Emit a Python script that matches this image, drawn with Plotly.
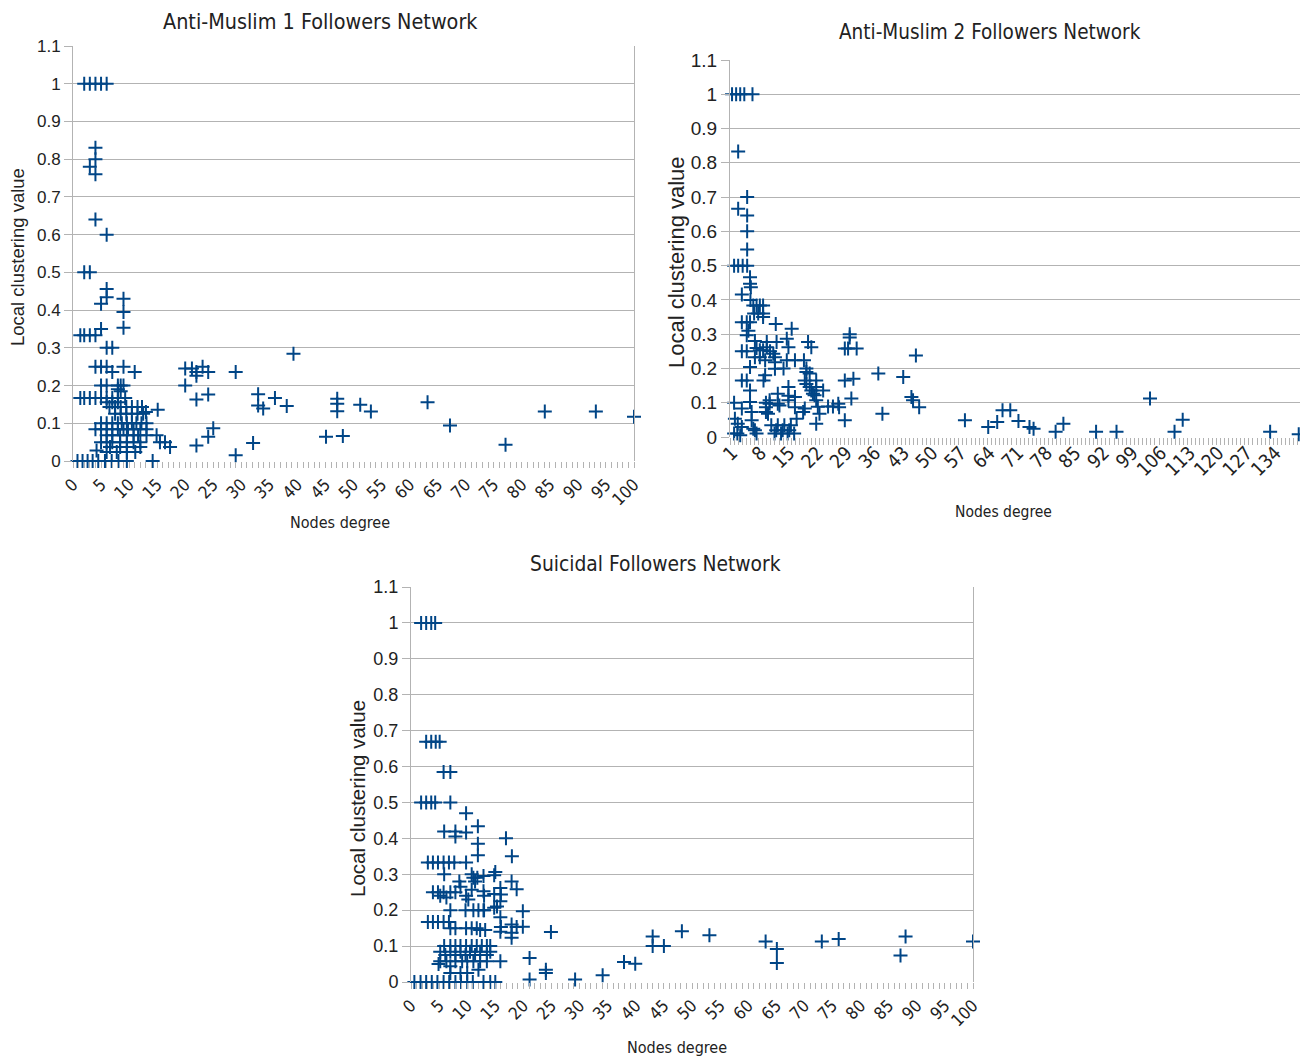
import plotly.graph_objects as go

# ---------------- data ----------------
am1_degree = [2,3,4,5,6, 4,4,3,4,4,6,2,3, 6,6,5,5,9,9,9, 1.3,2,3,4, 6,7, 4,5,6,9, 7,11,
              5,6,8,8.5,9,8,8.5, 1.3,2,3,4,5,6,7,8,9.3, 6,7,8,
              6.5,7.5,8.5,9.5,10.5,11.5,12.3, 7.5,8.5,9.5,10.5,11.5,12.5,13, 15.1,
              5,6,7,8,8.7,9.6,10.5,11.3,12.2,13.1,
              4,5,6,7,8,9,9.8,10.8,12,13.1,
              6,7,8.4,9.6,10.8,11.6,13.1,14.9,
              5,6,7,8.4,9.6,10.8,12,15.5,16.4,
              6.6,8.4,9.6,12,17.3, 6,7.8,9.6,11.1, 4.2,
              0.8,1.7,2.6,3.5,4.5,5.7,6.9,8.1,9.6,14.2,
              20,21.2,22,23.1,24.1,20,22,22,24.1,25,24.1,22,29,29,32.1,33,33,33.9,36,38.1,39.3,
              45.1,47.1,47.1,47.1,48.1,51.2,53.1,63.2,67.2,77.1,84.1,93.2,100]
am1_cc = [1,1,1,1,1, 0.83,0.80,0.78,0.76,0.64,0.60,0.5,0.5, 0.456,0.434,0.417,0.35,0.43,0.395,0.353,
          0.333,0.333,0.333,0.333, 0.3,0.3, 0.25,0.25,0.25,0.25, 0.236,0.236,
          0.2,0.2,0.2,0.2,0.2,0.19,0.185, 0.167,0.167,0.167,0.167,0.167,0.167,0.167,0.167,0.167, 0.156,0.156,0.156,
          0.143,0.143,0.143,0.143,0.143,0.143,0.143, 0.125,0.125,0.125,0.125,0.125,0.125,0.13, 0.136,
          0.1,0.1,0.1,0.1,0.1,0.1,0.1,0.1,0.1,0.1,
          0.084,0.084,0.084,0.084,0.084,0.084,0.084,0.084,0.084,0.084,
          0.068,0.068,0.068,0.068,0.068,0.068,0.068,0.068,
          0.05,0.05,0.05,0.05,0.05,0.05,0.05,0.05,0.05,
          0.037,0.037,0.037,0.037,0.037, 0.024,0.024,0.024,0.024, 0.028,
          0,0,0,0,0,0,0,0,0,0,
          0.245,0.245,0.236,0.25,0.236,0.2,0.226,0.163,0.176,0.087,0.064,0.041,0.236,0.015,0.048,0.177,0.147,0.139,0.167,0.146,0.284,
          0.064,0.165,0.152,0.132,0.066,0.149,0.131,0.156,0.094,0.043,0.131,0.131,0.117]

am2_degree = [1,2,3,4,6, 2.5,4.7,2.5,4.7,4.7,4.7, 1.5,2.5,3.6,4.7, 5.4,5.4,5.6,3.4,5.5,
              6.2,7,7.8,8.6, 6.4,7.4,8.6,8.6, 3.4,4.6,5.4, 5,4.6,6.6, 7,7.8,8.6, 3.4,4.6, 6.6,7.8,
              5.4,3.4,4.6, 5.4,5.4,1.5,3.4, 1.7,2.4,3.4, 1.5,2.3,3, 5.8,5.8,6.2,6.6,7,
              9.5,9.5,9.1,8.7,9.1, 10.3,11.1,11.5, 11.7,11.9,11.5,11.5,
              9.3,9.3,9.3,9.8,10.2,10.2,
              10.6,11.4,12.2,13,13.8,14.6,15.4,16.2,11.8,13.4,15,
              12.2,12.2,12.6, 14.8,14.8,14.8, 15.6,14.4,14.8,14.4,13.6,
              16.4,16.4,16.4,16.8, 18.6,19.2,19.2,20,19.6,20.4,
              18.8,19.2,20,20.4,20.8,21.6,21.6,21.2, 18.8,18.4, 21.6,22,22.4, 21.6,
              23.3,24.5,25.7,27,27.2, 28.6,28.6, 28.6,29.4,29.8,29.8,30.2,31.5,30.7,
              36.8,37.8,42.9,44.9,45.3,46,46.8,58,63.7,
              65.9,67.2,69.1,71.1,73.8,74.8,80.2,82.1,90.1,95.1,103.3,109.3,111.3,132.7,139.7]
am2_cc = [1,1,1,1,1, 0.833,0.70,0.666,0.646,0.60,0.547, 0.5,0.5,0.5,0.5, 0.466,0.447,0.437,0.416,0.40,
          0.384,0.384,0.384,0.384, 0.36,0.36,0.36,0.35, 0.335,0.335,0.335, 0.31,0.297,0.28, 0.26,0.253,0.253, 0.25,0.25, 0.233,0.233,
          0.204,0.165,0.165, 0.136,0.102,0.1,0.083, 0.053,0.039,0.029, 0.01,0.01,0.005, 0.073,0.049,0.024,0.02,0.01,
          0.277,0.262,0.224,0.165,0.18, 0.25,0.243,0.233, 0.33,0.277,0.218,0.199,
          0.1,0.087,0.073,0.068,0.097,0.107,
          0.034,0.01,0.034,0.01,0.034,0.01,0.034,0.01,0.02,0.02,0.02,
          0.126,0.097,0.092, 0.146,0.12,0.107, 0.316,0.287,0.262,0.224,0.2,
          0.224,0.117,0.087,0.053, 0.224,0.19,0.2,0.185,0.277,0.262,
          0.165,0.155,0.146,0.136,0.126,0.165,0.146,0.122, 0.083,0.073, 0.107,0.088,0.068, 0.039,
          0.136,0.089,0.089,0.097,0.087, 0.165,0.049, 0.258,0.258,0.30,0.29,0.112,0.258,0.17,
          0.185,0.068,0.175,0.117,0.107,0.238,0.087,0.049,0.029,
          0.044,0.078,0.078,0.047,0.029,0.024,0.015,0.039,0.015,0.015,0.112,0.015,0.05,0.015,0.008]

sui_degree = [1.8,2.7,3.6,4.3, 2.7,3.6,4.4,5.1, 5.8,7, 1.8,2.7,3.6,4.3,7, 9.8,
              5.9,7.9,7.9,9.8, 11.9,11.9,11.9, 16.9,17.95,
              3,3.9,4.8,5.8,6.75,7.7,9.8,
              5.9,10.8,11.1,11.8,11.4,12.9,12.9, 15,14.8,15.9,16,17.9,18.8,
              3.9,4.8,5.8,7,7.9,5.2,6.3, 8.6,8.8,9.8,10.2,10.8,
              13,13,14.8,14.8,15.3,15.9,19.9,
              7,9.7,11.1,12,12.9,
              3,3.9,4.8,5.8,6.75,
              7,7.9,9.8,10.8,11.7,12.3,13.2,
              15.9,15.9,16,17.9,17.9,17.9,18.8,19.9,24.9,
              5.9,7.0,7.9,8.8,9.8,10.8,11.7,12.6,13.5,14.1,
              5.2,6.1,7.0,7.9,8.8,9.7,10.5,11.4,12.3,13.5,14.1,
              5.2,6.3,7.9,9.1,10,11.1,12.3,13.5,15.9,
              4.9,7,7,8.8,10,12,
              21.1,21.1,24,24,29.2,34.1,37.9,39.9,
              43,43,45,48.2,53.1,63.1,65.1,65.1,73.1,76.1,87.1,88,100,
              0.6,1.7,2.7,3.7,4.7,5.8,6.8,7.9,8.9,10,11,12.9,14.1,15]
sui_cc = [1,1,1,1, 0.669,0.669,0.669,0.669, 0.585,0.585, 0.5,0.5,0.5,0.5,0.5, 0.47,
          0.419,0.419,0.405,0.416, 0.434,0.385,0.353, 0.4,0.35,
          0.333,0.333,0.333,0.333,0.333,0.333,0.333,
          0.3,0.3,0.29,0.29,0.28,0.295,0.253, 0.306,0.297,0.262,0.244,0.28,0.258,
          0.25,0.25,0.25,0.25,0.25,0.24,0.235, 0.28,0.265,0.24,0.23,0.257,
          0.24,0.2,0.245,0.207,0.21,0.225,0.197,
          0.2,0.2,0.2,0.2,0.2,
          0.167,0.167,0.167,0.167,0.167,
          0.15,0.15,0.15,0.15,0.15,0.145,0.145,
          0.18,0.14,0.153,0.16,0.137,0.123,0.153,0.154,0.139,
          0.1,0.1,0.1,0.1,0.1,0.1,0.1,0.1,0.1,0.1,
          0.084,0.075,0.084,0.075,0.084,0.075,0.084,0.075,0.084,0.075,0.084,
          0.058,0.058,0.058,0.058,0.058,0.058,0.058,0.058,0.058,
          0.05,0.044,0.025,0.025,0.025,0.034,
          0.067,0.007,0.034,0.025,0.007,0.019,0.056,0.051,
          0.127,0.1,0.1,0.141,0.13,0.113,0.092,0.053,0.113,0.12,0.074,0.127,0.113,
          0,0,0,0,0,0,0,0,0,0,0,0,0,0]

y_ticks = [0, 0.1, 0.2, 0.3, 0.4, 0.5, 0.6, 0.7, 0.8, 0.9, 1, 1.1]
y_tick_text = ["0", "0.1", "0.2", "0.3", "0.4", "0.5", "0.6", "0.7", "0.8", "0.9", "1", "1.1"]
x_ticks_100 = list(range(0, 101, 5))
x_ticks_cat = list(range(1, 135, 7))

titles = ["Anti-Muslim 1 Followers Network", "Anti-Muslim 2 Followers Network", "Suicidal Followers Network"]
x_title = "Nodes degree"
y_title = "Local clustering value"

# ---------------- figure ----------------
W, H = 1308, 1060
OFF = 8  # page body margin
BLUE = "#004586"
GRID = "#b3b3b3"
NARROW = "Liberation Sans Narrow, DejaVu Sans Condensed, Arial Narrow, sans-serif"
REG = "Liberation Sans, Arial, sans-serif"

def px_x(p):
    return (p - OFF) / W

def px_y(p):
    return 1 - (p - OFF) / H

fig = go.Figure()
marker = dict(symbol="cross-thin", size=10, color=BLUE, line=dict(color=BLUE, width=2))
fig.add_trace(go.Scatter(x=am1_degree, y=am1_cc, mode="markers", marker=marker, xaxis="x", yaxis="y", cliponaxis=False))
fig.add_trace(go.Scatter(x=am2_degree, y=am2_cc, mode="markers", marker=marker, xaxis="x2", yaxis="y2", cliponaxis=False))
fig.add_trace(go.Scatter(x=sui_degree, y=sui_cc, mode="markers", marker=marker, xaxis="x3", yaxis="y3", cliponaxis=False))

# plot areas in pixels: (left, right, top, bottom)
areas = [(73, 634, 46, 461), (730, 1302, 60, 437), (411, 973, 587, 982)]
yfont = [17, 19, 18]

def yaxis_cfg(i):
    l, r, t, b = areas[i]
    return dict(domain=[px_y(b), px_y(t)], range=[0, 1.1], tickvals=y_ticks, ticktext=y_tick_text,
                showgrid=True, gridcolor=GRID, gridwidth=1, zeroline=False,
                showline=True, linecolor=GRID, linewidth=1, mirror=True,
                ticks="outside", ticklen=8, tickcolor=GRID, automargin=False,
                tickfont=dict(family=REG, size=yfont[i], color="#222"),
                anchor=["x", "x2", "x3"][i], fixedrange=True)

def xaxis_cfg(i, cat=False):
    l, r, t, b = areas[i]
    cfg = dict(domain=[px_x(l), px_x(r)], showgrid=False, zeroline=False, showline=False,
               tickangle=-45, automargin=False,
               tickfont=dict(family=NARROW, size=17 if i != 1 else 19, color="#222"),
               anchor=["y", "y2", "y3"][i])
    if cat:
        cfg.update(range=[0.5, 140.5], tickvals=x_ticks_cat, ticks="", ticklen=0,
                   minor=dict(tick0=0.5, dtick=1, ticks="outside", ticklen=7, tickcolor=GRID, showgrid=False))
    else:
        cfg.update(range=[0, 100], tickvals=x_ticks_100, ticks="outside", ticklen=6, tickcolor=GRID,
                   minor=dict(tick0=0, dtick=1, ticks="outside", ticklen=6, tickcolor=GRID, showgrid=False))
    return cfg

fig.update_layout(
    width=W, height=H, margin=dict(l=0, r=0, t=0, b=0),
    paper_bgcolor="white", plot_bgcolor="white", showlegend=False,
    xaxis=xaxis_cfg(0), yaxis=yaxis_cfg(0),
    xaxis2=xaxis_cfg(1, cat=True), yaxis2=yaxis_cfg(1),
    xaxis3=xaxis_cfg(2), yaxis3=yaxis_cfg(2),
)

# titles and axis titles as annotations (pixel positions)
title_pos = [(320, 22, 21.4), (990, 32, 20.5), (655, 564, 20.8)]
xt_pos = [(340, 522, 16), (1003, 512, 15.5), (677, 1047, 16)]
yt_pos = [(17, 257, 18.5), (676, 262, 22), (357, 799, 20.5)]
for i in range(3):
    x, y, s = title_pos[i]
    fig.add_annotation(text=titles[i], x=px_x(x), y=px_y(y), xref="paper", yref="paper",
                       showarrow=False, font=dict(family=NARROW, size=s, color="#222"),
                       xanchor="center", yanchor="middle")
    x, y, s = xt_pos[i]
    fig.add_annotation(text=x_title, x=px_x(x), y=px_y(y), xref="paper", yref="paper",
                       showarrow=False, font=dict(family=NARROW, size=s, color="#222"),
                       xanchor="center", yanchor="middle")
    x, y, s = yt_pos[i]
    fig.add_annotation(text=y_title, x=px_x(x), y=px_y(y), xref="paper", yref="paper",
                       showarrow=False, textangle=-90, font=dict(family=REG, size=s, color="#222"),
                       xanchor="center", yanchor="middle")

fig.write_html("out.html")
